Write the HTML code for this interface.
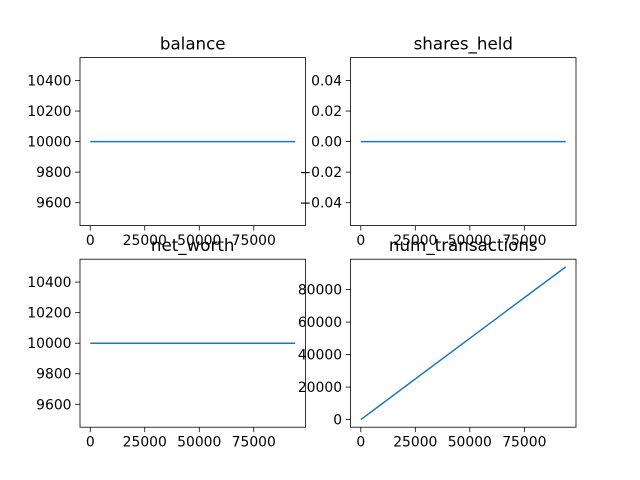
<!DOCTYPE html>
<html><head><meta charset="utf-8"><style>
html,body{margin:0;padding:0;background:#fff;}
svg{display:block;font-family:"DejaVu Sans","Liberation Sans",sans-serif;}
</style></head><body>
<svg id="fig" width="640" height="480" xmlns="http://www.w3.org/2000/svg"></svg>
<script>
const steps = [0, 94000];
const balanceValues = [10000, 10000];
const sharesValues = [0, 0];
const netWorthValues = [10000, 10000];
const txValues = [0, 94000];
const titles = ["balance", "shares_held", "net_worth", "num_transactions"];
const xTicks = [0, 25000, 50000, 75000];
const yTicksBalance = [9600, 9800, 10000, 10200, 10400];
const yTickLabelsBalance = ["9600", "9800", "10000", "10200", "10400"];
const yTicksShares = [-0.04, -0.02, 0, 0.02, 0.04];
const yTickLabelsShares = ["\u22120.04", "\u22120.02", "0.00", "0.02", "0.04"];
const yTicksTx = [0, 20000, 40000, 60000, 80000];
const yTickLabelsTx = ["0", "20000", "40000", "60000", "80000"];

const NS = "http://www.w3.org/2000/svg";
const svg = document.getElementById("fig");
function mk(tag, attrs, parent) {
  const e = document.createElementNS(NS, tag);
  for (const k in attrs) e.setAttribute(k, attrs[k]);
  (parent || svg).appendChild(e);
  return e;
}
function lim(vals) {
  let lo = Math.min(...vals), hi = Math.max(...vals);
  if (lo === hi) { const d = lo === 0 ? 0.05 : Math.abs(lo) * 0.05; lo -= d; hi += d; }
  const m = (hi - lo) * 0.05;
  return [lo - m, hi + m];
}
const W = 225.45, H = 168;
const panels = [
  {x0: 80, y0: 57.6, ys: balanceValues, yt: yTicksBalance, yl: yTickLabelsBalance, name: "balance"},
  {x0: 350.55, y0: 57.6, ys: sharesValues, yt: yTicksShares, yl: yTickLabelsShares, name: "shares-held"},
  {x0: 80, y0: 259.2, ys: netWorthValues, yt: yTicksBalance, yl: yTickLabelsBalance, name: "net-worth"},
  {x0: 350.55, y0: 259.2, ys: txValues, yt: yTicksTx, yl: yTickLabelsTx, name: "num-transactions"}
];
// draw axes first, titles last so they overlay tick labels
const titleEls = [];
panels.forEach((p, i) => {
  const g = mk("g", {});
  
  
  const [xl, xh] = lim(steps);
  const [yl, yh] = lim(p.ys);
  const sx = v => p.x0 + (v - xl) / (xh - xl) * W;
  const sy = v => p.y0 + H - (v - yl) / (yh - yl) * H;
  const line = mk("polyline", {points: steps.map((s, j) => sx(s) + "," + sy(p.ys[j])).join(" "), fill: "none", stroke: "#1f77b4", "stroke-width": 1.5}, g);
  
  
  const frame = mk("rect", {x: p.x0, y: p.y0, width: W, height: H, fill: "none", stroke: "#000", "stroke-width": 0.8}, g);
  
  
  xTicks.forEach(t => {
    const x = sx(t), yb = p.y0 + H;
    mk("line", {x1: x, y1: yb, x2: x, y2: yb + 4.9, stroke: "#000", "stroke-width": 0.8}, g);
    const tx = mk("text", {x: x, y: yb + 19.5, "font-size": 13.9, "text-anchor": "middle", fill: "#000"}, g);
    tx.textContent = String(t);
    
    
  });
  p.yt.forEach((t, j) => {
    const y = sy(t);
    mk("line", {x1: p.x0, y1: y, x2: p.x0 - 4.9, y2: y, stroke: "#000", "stroke-width": 0.8}, g);
    const ty = mk("text", {x: p.x0 - 8.5, y: y + 5, "font-size": 13.9, "text-anchor": "end", fill: "#000"}, g);
    ty.textContent = p.yl[j];
    
    
  });
  titleEls.push({x: p.x0 + W / 2, y: p.y0 - 8.3, text: titles[i], name: p.name});
});
titleEls.forEach(t => {
  const e = mk("text", {x: t.x, y: t.y, "font-size": 16.7, "text-anchor": "middle", fill: "#000"});
  e.textContent = t.text;
  
  
});
</script>
</body></html>
